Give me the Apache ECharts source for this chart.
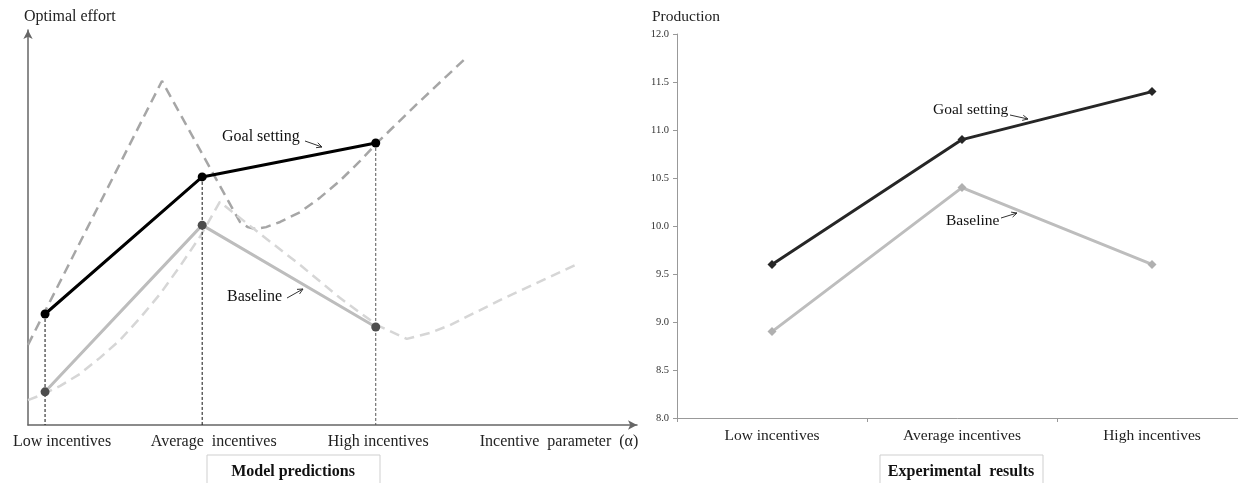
<!DOCTYPE html>
<html>
<head>
<meta charset="utf-8">
<script src="https://cdn.jsdelivr.net/npm/echarts@6/dist/echarts.min.js"></script>
<style>
html,body{margin:0;padding:0;background:#fff;}
#chart{width:1238px;height:483px;}
</style>
</head>
<body>
<div id="chart"></div>
<script>
// ---------- data ----------
const categories = ['Low incentives', 'Average incentives', 'High incentives'];

// Model predictions (arbitrary units, 0..100 on both axes)
const modelX = [2.8, 28.6, 57.1];
const modelGoal = [28.1, 62.8, 71.4];
const modelBase = [8.4, 50.6, 24.8];

// Goal-setting optimal effort curve (dashed, darker)
const goalCurveX = [0, 22.0, 34.8, 36.1, 37.4, 39.1, 41.4, 44.7, 47.9, 51.2, 54.5, 57.3, 63.9, 72.1];
const goalCurveY = [20.3, 87.1, 51.4, 50.1, 49.6, 50.1, 51.4, 53.9, 57.5, 61.8, 66.8, 71.4, 81.3, 93.2];

// Baseline optimal effort curve (dashed, lighter)
const baseCurveX = [0, 2.5, 5.3, 8.5, 11.8, 15.1, 18.4, 21.7, 25.0, 28.3, 31.5, 38.1, 44.7, 51.2, 57.3, 62.2, 66.0, 69.3, 77.5, 90.6];
const baseCurveY = [6.3, 7.8, 9.9, 12.9, 17.0, 21.5, 27.1, 33.2, 40.3, 47.8, 56.5, 48.4, 40.5, 32.2, 25.3, 21.8, 23.3, 25.3, 31.6, 41.0];

// Left x-axis label positions and texts
const modelLabelX = [5.6, 30.5, 57.5, 87.2];
const modelLabelText = ['Low incentives', 'Average  incentives', 'High incentives', 'Incentive  parameter  (α)'];

// Experimental results
const expGoal = [9.6, 10.9, 11.4];
const expBase = [8.9, 10.4, 9.6];
const expYMin = 8.0, expYMax = 12.0, expYStep = 0.5;

// ---------- chart ----------
const FONT = 'Liberation Serif';
const chart = echarts.init(document.getElementById('chart'));

const zip = (xs, ys) => xs.map((x, i) => [x, ys[i]]);

const dropLines = modelX.map((x, i) => ({
  type: 'line', xAxisIndex: 0, yAxisIndex: 0, silent: true, symbol: 'none',
  data: [[x, Math.max(modelGoal[i], modelBase[i])], [x, 0]],
  lineStyle: { color: i === 2 ? '#555' : '#111', width: 1, type: [3, 2] }, z: 1
}));

const option = {
  animation: false,
  backgroundColor: '#fff',
  textStyle: { fontFamily: FONT },
  title: [
    { text: 'Optimal effort', left: 19, top: 4, textStyle: { fontFamily: FONT, fontSize: 16, fontWeight: 'normal', color: '#222' } },
    { text: 'Production', left: 647, top: 4, textStyle: { fontFamily: FONT, fontSize: 15.5, fontWeight: 'normal', color: '#222' } }
  ],
  grid: [
    { left: 28, top: 30, width: 609, height: 395, outerBoundsMode: 'none', containLabel: false },
    { left: 677, top: 34, width: 570, height: 384, outerBoundsMode: 'none', containLabel: false }
  ],
  xAxis: [
    {
      gridIndex: 0, type: 'value', min: 0, max: 100,
      splitLine: { show: false },
      axisLine: { show: true, lineStyle: { color: '#666', width: 1.5 }, symbol: ['none', 'arrow'], symbolSize: [7, 9] },
      axisTick: { show: false },
      axisLabel: {
        show: true, customValues: modelLabelX, margin: 9,
        fontFamily: FONT, fontSize: 16, color: '#222',
        formatter: v => { const i = modelLabelX.indexOf(v); return i >= 0 ? modelLabelText[i] : ''; }
      }
    },
    {
      gridIndex: 1, type: 'category', data: categories, boundaryGap: true,
      axisLine: { show: true, lineStyle: { color: '#999', width: 1 } },
      axisTick: { show: true, length: 4, lineStyle: { color: '#999' } },
      axisLabel: { fontFamily: FONT, fontSize: 15.5, color: '#222', margin: 10 },
      splitLine: { show: false }
    }
  ],
  yAxis: [
    {
      gridIndex: 0, type: 'value', min: 0, max: 100,
      splitLine: { show: false },
      axisLine: { show: true, lineStyle: { color: '#666', width: 1.5 }, symbol: ['none', 'arrow'], symbolSize: [7, 9] },
      axisTick: { show: false },
      axisLabel: { show: false }
    },
    {
      gridIndex: 1, type: 'value', min: expYMin, max: expYMax, interval: expYStep,
      splitLine: { show: false },
      axisLine: { show: true, lineStyle: { color: '#999', width: 1 } },
      axisTick: { show: true, length: 4, lineStyle: { color: '#999' } },
      axisLabel: { fontFamily: FONT, fontSize: 10.5, color: '#333', margin: 8, formatter: v => v.toFixed(1) }
    }
  ],
  series: [
    {
      name: 'Goal curve', type: 'line', xAxisIndex: 0, yAxisIndex: 0, symbol: 'none', silent: true,
      data: zip(goalCurveX, goalCurveY),
      lineStyle: { color: '#a6a6a6', width: 2.5, type: [10, 6] }, z: 1
    },
    {
      name: 'Baseline curve', type: 'line', xAxisIndex: 0, yAxisIndex: 0, symbol: 'none', silent: true,
      data: zip(baseCurveX, baseCurveY),
      lineStyle: { color: '#d6d6d6', width: 2.5, type: [10, 6] }, z: 1
    },
    ...dropLines,
    {
      name: 'Baseline model', type: 'line', xAxisIndex: 0, yAxisIndex: 0,
      data: zip(modelX, modelBase), symbol: 'circle', symbolSize: 9,
      itemStyle: { color: '#4d4d4d' },
      lineStyle: { color: '#bdbdbd', width: 3 }, z: 3
    },
    {
      name: 'Goal model', type: 'line', xAxisIndex: 0, yAxisIndex: 0,
      data: zip(modelX, modelGoal), symbol: 'circle', symbolSize: 9,
      itemStyle: { color: '#000' },
      lineStyle: { color: '#000', width: 3 }, z: 4
    },
    {
      name: 'Baseline exp', type: 'line', xAxisIndex: 1, yAxisIndex: 1,
      data: expBase, symbol: 'diamond', symbolSize: 9,
      itemStyle: { color: '#b0b0b0' },
      lineStyle: { color: '#bdbdbd', width: 3 }, z: 3
    },
    {
      name: 'Goal exp', type: 'line', xAxisIndex: 1, yAxisIndex: 1,
      data: expGoal, symbol: 'diamond', symbolSize: 9,
      itemStyle: { color: '#262626' },
      lineStyle: { color: '#262626', width: 3 }, z: 4
    }
  ]
};
chart.setOption(option);

// ---------- annotations ----------
function arrow(x1, y1, x2, y2) {
  const a = Math.atan2(y2 - y1, x2 - x1), h = 6, s = 0.45;
  return [
    { type: 'line', shape: { x1, y1, x2, y2 }, style: { stroke: '#333', lineWidth: 1 } },
    { type: 'polyline', shape: { points: [[x2 - h * Math.cos(a - s), y2 - h * Math.sin(a - s)], [x2, y2], [x2 - h * Math.cos(a + s), y2 - h * Math.sin(a + s)]] }, style: { stroke: '#333', lineWidth: 1, fill: null } }
  ];
}
function label(text, x, y, size) {
  return { type: 'text', x, y, style: { text, font: `${size || 16}px "${FONT}"`, fill: '#111', textVerticalAlign: 'middle' } };
}
function box(text, cx, x1, x2, y) {
  return [
    { type: 'rect', shape: { x: x1, y: y, width: x2 - x1, height: 40 }, style: { stroke: '#cfcfcf', lineWidth: 1, fill: '#fff' } },
    { type: 'text', x: cx, y: y + 17, style: { text, font: `bold 16px "${FONT}"`, fill: '#111', textAlign: 'center', textVerticalAlign: 'middle' } }
  ];
}
chart.setOption({
  graphic: [
    label('Goal setting', 222, 137),
    ...arrow(305, 141, 322, 147),
    label('Baseline', 227, 297),
    ...arrow(287, 298, 303, 289),
    label('Goal setting', 933, 110, 15.5),
    ...arrow(1010, 115, 1028, 119),
    label('Baseline', 946, 221, 15.5),
    ...arrow(1001, 218, 1017, 213),
    ...box('Model predictions', 293, 207, 380, 455),
    ...box('Experimental  results', 961, 880, 1043, 455)
  ]
});
</script>
</body>
</html>
